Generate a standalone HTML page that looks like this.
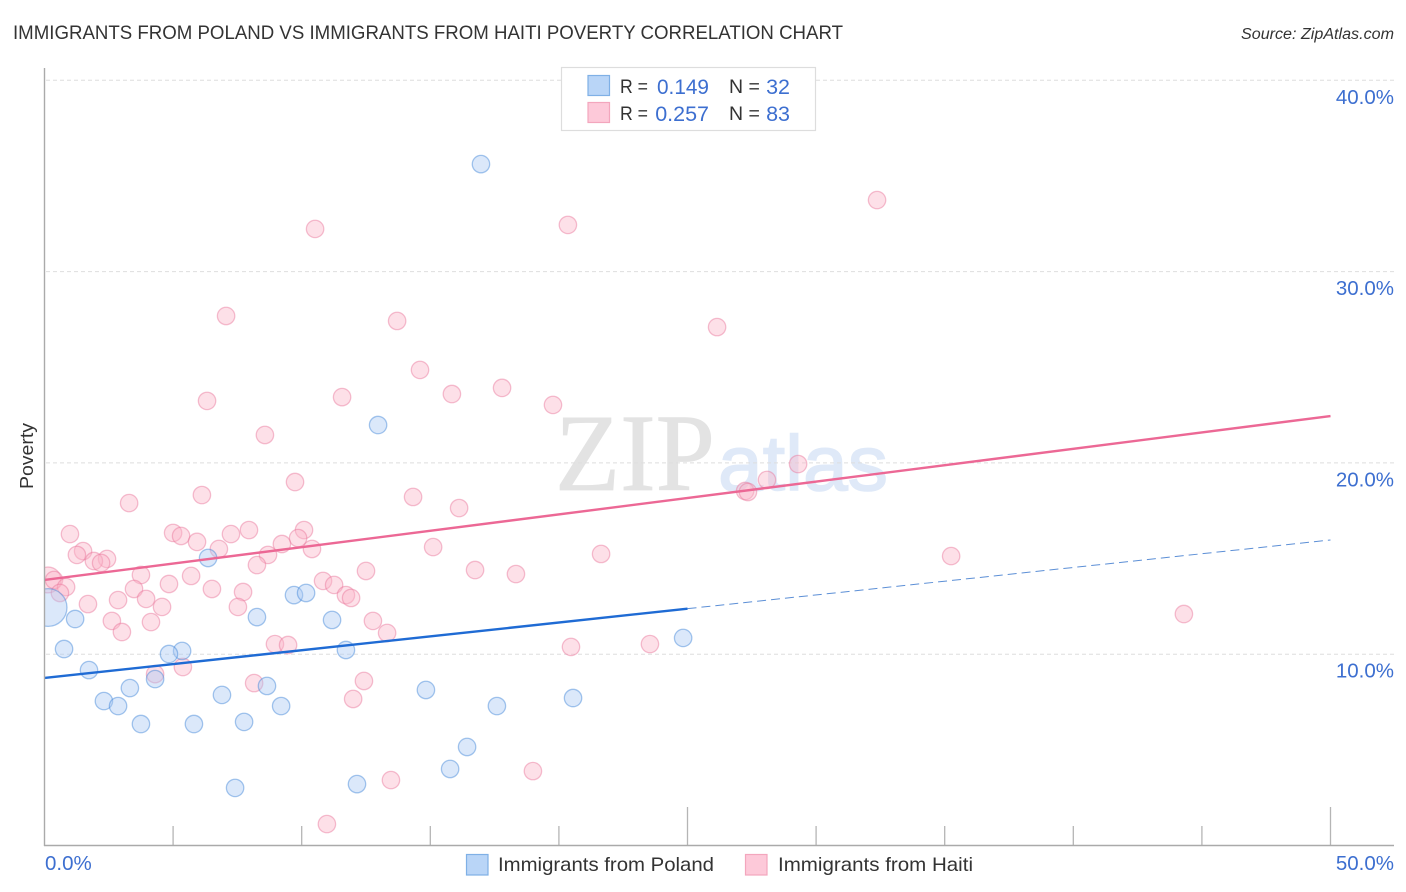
<!DOCTYPE html>
<html lang="en">
<head>
<meta charset="utf-8">
<title>Immigrants from Poland vs Immigrants from Haiti Poverty Correlation Chart</title>
<style>
html,body{margin:0;padding:0;background:#fff;}
svg{display:block;font-family:"Liberation Sans",sans-serif;}
</style>
</head>
<body>
<svg id="chart" xmlns="http://www.w3.org/2000/svg" width="1406" height="892" viewBox="0 0 1406 892">
  <rect x="0" y="0" width="1406" height="892" fill="#ffffff"/>
  <defs><clipPath id="plot-clip"><rect x="45" y="60" width="1360" height="786"/></clipPath></defs>
  <text x="13" y="39" font-size="19.5" fill="#333333" textLength="830" lengthAdjust="spacingAndGlyphs">IMMIGRANTS FROM POLAND VS IMMIGRANTS FROM HAITI POVERTY CORRELATION CHART</text>
  <text x="1394" y="39" font-size="15.5" font-style="italic" fill="#333333" text-anchor="end" textLength="153" lengthAdjust="spacingAndGlyphs">Source: ZipAtlas.com</text>
  <text transform="translate(33,456) rotate(-90)" font-size="18.5" fill="#333333" text-anchor="middle" textLength="66" lengthAdjust="spacingAndGlyphs">Poverty</text>
  <g>
    <text x="555" y="490" font-family="'Liberation Serif',serif" font-size="110" fill="#e3e3e3" stroke="#e3e3e3" stroke-width="0.8" textLength="160" lengthAdjust="spacingAndGlyphs">ZIP</text>
    <text x="718" y="490" font-size="78" fill="#dfe9f8" stroke="#dfe9f8" stroke-width="1.5" textLength="170" lengthAdjust="spacingAndGlyphs">atlas</text>
  </g>
  <g id="grid"></g>
  <g id="haiti-points" clip-path="url(#plot-clip)"></g>
  <g id="poland-points" clip-path="url(#plot-clip)"></g>
  <g id="trends"></g>
  <g id="axes"></g>
  <g>
    <rect x="561.5" y="67.5" width="254" height="63" fill="#ffffff" stroke="#dddddd" stroke-width="1.2"/>
    <rect x="588" y="75.5" width="21.5" height="20" fill="#b9d5f7" stroke="#7fb0e6" stroke-width="1.2"/>
    <rect x="588" y="102.5" width="21.5" height="20" fill="#fdc9d9" stroke="#f3a6bd" stroke-width="1.2"/>
    <text x="620" y="93" font-size="19.5" fill="#333333" textLength="28" lengthAdjust="spacingAndGlyphs">R =</text>
    <text x="657" y="94" font-size="21.5" fill="#3d6fd0" textLength="52" lengthAdjust="spacingAndGlyphs">0.149</text>
    <text x="729" y="93" font-size="19.5" fill="#333333">N =</text>
    <text x="790" y="94" font-size="21.5" fill="#3d6fd0" text-anchor="end">32</text>
    <text x="620" y="120" font-size="19.5" fill="#333333" textLength="28" lengthAdjust="spacingAndGlyphs">R =</text>
    <text x="709" y="121" font-size="21.5" fill="#3d6fd0" text-anchor="end">0.257</text>
    <text x="729" y="120" font-size="19.5" fill="#333333">N =</text>
    <text x="790" y="121" font-size="21.5" fill="#3d6fd0" text-anchor="end">83</text>
  </g>
  <g>
    <rect x="466.5" y="854.5" width="21.5" height="20.5" fill="#b9d5f7" stroke="#7fb0e6" stroke-width="1.2"/>
    <text x="498" y="871" font-size="19.5" fill="#333333" textLength="216" lengthAdjust="spacingAndGlyphs">Immigrants from Poland</text>
    <rect x="745.5" y="854.5" width="21.5" height="20.5" fill="#fdc9d9" stroke="#f3a6bd" stroke-width="1.2"/>
    <text x="778" y="871" font-size="19.5" fill="#333333" textLength="195" lengthAdjust="spacingAndGlyphs">Immigrants from Haiti</text>
  </g>
</svg>
<script>
const polandX = [16.97,12.97,6.36,9.70,10.17,8.26,11.18,1.19,24.83,0.76,5.35,4.84,11.72,1.73,4.30,3.32,8.65,14.83,6.90,2.31,2.86,9.20,17.59,20.55,3.75,5.81,7.76,16.43,15.77,12.15,7.41,0.14];
const polandY = [35.62,21.98,15.03,13.09,13.20,11.94,11.79,11.84,10.85,10.27,10.17,10.01,10.22,9.17,8.70,8.23,8.34,8.13,7.87,7.55,7.29,7.29,7.29,7.71,6.35,6.35,6.46,5.15,4.00,3.21,3.01,12.44];
const polandWeight = [1,1,1,1,1,1,1,1,1,1,1,1,1,1,1,1,1,1,1,1,1,1,1,1,1,1,1,1,1,1,1,4.7];
const haitiX = [32.37,20.35,10.52,7.06,13.71,26.15,14.60,15.84,17.79,11.57,6.32,19.77,8.57,29.30,28.09,9.74,27.24,27.35,14.33,6.12,3.29,16.12,5.00,7.95,7.25,10.09,5.31,0.99,5.93,9.86,9.23,10.40,6.78,15.11,1.50,1.26,8.69,2.43,1.92,2.20,8.26,21.64,35.25,16.74,12.50,18.33,3.75,5.70,10.83,11.26,0.14,0.37,0.84,4.84,3.48,6.51,7.72,11.72,11.92,0.60,2.86,3.95,1.69,7.52,4.57,2.62,4.14,12.77,3.01,13.32,8.96,9.47,20.47,23.54,44.30,5.38,4.30,12.42,8.15,12.00,13.47,18.99,10.98];
const haitiY = [33.74,32.44,32.23,27.68,27.42,27.10,24.86,23.60,23.92,23.44,23.24,23.03,21.46,19.94,19.11,19.00,18.53,18.48,18.22,18.32,17.90,17.64,16.34,16.49,16.28,16.49,16.18,16.28,15.87,16.07,15.76,15.50,15.50,15.60,15.39,15.19,15.19,14.98,14.87,14.77,14.66,15.24,15.13,14.40,14.35,14.19,14.14,14.09,13.83,13.62,13.88,13.88,13.51,13.67,13.41,13.41,13.25,13.09,12.94,13.20,12.83,12.89,12.62,12.47,12.47,11.74,11.68,11.74,11.16,11.11,10.53,10.48,10.38,10.53,12.10,9.33,8.96,8.60,8.49,7.66,3.42,3.89,1.12];
const haitiWeight = [1,1,1,1,1,1,1,1,1,1,1,1,1,1,1,1,1,1,1,1,1,1,1,1,1,1,1,1,1,1,1,1,1,1,1,1,1,1,1,1,1,1,1,1,1,1,1,1,1,1,2.2,1,1,1,1,1,1,1,1,1,1,1,1,1,1,1,1,1,1,1,1,1,1,1,1,1,1,1,1,1,1,1,1];
const polandTrendX = [0, 25];
const polandTrendY = [8.76, 12.38];
const polandForecastX = [25, 50];
const polandForecastY = [12.38, 15.97];
const haitiTrendX = [0, 50];
const haitiTrendY = [13.88, 22.45];
const yGridValues = [10, 20, 30, 40];
const yTickLabels = ["10.0%", "20.0%", "30.0%", "40.0%"];
const xTickValues = [5, 10, 15, 20, 25, 30, 35, 40, 45, 50];
const xMajorTicks = [25, 50];
const xEndLabels = ["0.0%", "50.0%"];

const NS = "http://www.w3.org/2000/svg";
const sx = v => 44.5 + v * 25.72;
const sy = v => 845.5 - v * 19.13;
const radius = w => 8.7 * Math.sqrt(w);

const gridGroup = document.getElementById("grid");
const axesGroup = document.getElementById("axes");
const trendsGroup = document.getElementById("trends");

yGridValues.forEach(function (v, i) {
  const line = document.createElementNS(NS, "line");
  
  
  line.setAttribute("x1", 46);
  line.setAttribute("x2", 1394);
  line.setAttribute("y1", sy(v));
  line.setAttribute("y2", sy(v));
  line.setAttribute("stroke", "#dedede");
  line.setAttribute("stroke-width", 1);
  line.setAttribute("stroke-dasharray", "4 3");
  gridGroup.appendChild(line);

  const label = document.createElementNS(NS, "text");
  
  
  label.setAttribute("x", 1394);
  label.setAttribute("y", sy(v) + 23.5);
  label.setAttribute("font-size", 20.5);
  label.setAttribute("fill", "#3d6fd0");
  label.setAttribute("text-anchor", "end");
  label.textContent = yTickLabels[i];
  axesGroup.appendChild(label);
});

function drawPoints(xs, ys, ws, groupId, fill, stroke, name) {
  const group = document.getElementById(groupId);
  xs.forEach(function (x, i) {
    const c = document.createElementNS(NS, "circle");
    
    
    c.setAttribute("cx", sx(x));
    c.setAttribute("cy", sy(ys[i]));
    c.setAttribute("r", radius(ws[i]));
    c.setAttribute("fill", fill);
    c.setAttribute("fill-opacity", 0.42);
    c.setAttribute("stroke", stroke);
    c.setAttribute("stroke-opacity", 0.45);
    c.setAttribute("stroke-width", 1.3);
    group.appendChild(c);
  });
}
drawPoints(haitiX, haitiY, haitiWeight, "haiti-points", "#fbb4c9", "#e8749a", "haiti-point");
drawPoints(polandX, polandY, polandWeight, "poland-points", "#a9c9f2", "#3b82d8", "poland-point");

const forecast = document.createElementNS(NS, "line");


forecast.setAttribute("x1", sx(polandForecastX[0]));
forecast.setAttribute("y1", sy(polandForecastY[0]));
forecast.setAttribute("x2", sx(polandForecastX[1]));
forecast.setAttribute("y2", sy(polandForecastY[1]));
forecast.setAttribute("stroke", "#5c8fd6");
forecast.setAttribute("stroke-width", 1);
forecast.setAttribute("stroke-dasharray", "9 5");
trendsGroup.appendChild(forecast);

const polandLine = document.createElementNS(NS, "line");


polandLine.setAttribute("x1", sx(polandTrendX[0]));
polandLine.setAttribute("y1", sy(polandTrendY[0]));
polandLine.setAttribute("x2", sx(polandTrendX[1]));
polandLine.setAttribute("y2", sy(polandTrendY[1]));
polandLine.setAttribute("stroke", "#1f6bd4");
polandLine.setAttribute("stroke-width", 2.4);
trendsGroup.appendChild(polandLine);

const haitiLine = document.createElementNS(NS, "line");


haitiLine.setAttribute("x1", sx(haitiTrendX[0]));
haitiLine.setAttribute("y1", sy(haitiTrendY[0]));
haitiLine.setAttribute("x2", sx(haitiTrendX[1]));
haitiLine.setAttribute("y2", sy(haitiTrendY[1]));
haitiLine.setAttribute("stroke", "#ec6895");
haitiLine.setAttribute("stroke-width", 2.4);
trendsGroup.appendChild(haitiLine);

xTickValues.forEach(function (v) {
  const tick = document.createElementNS(NS, "line");
  
  
  tick.setAttribute("x1", sx(v));
  tick.setAttribute("x2", sx(v));
  tick.setAttribute("y1", xMajorTicks.includes(v) ? 807 : 826);
  tick.setAttribute("y2", 845);
  tick.setAttribute("stroke", "#b5b5b5");
  tick.setAttribute("stroke-width", 1.3);
  axesGroup.appendChild(tick);
});

const xAxis = document.createElementNS(NS, "line");


xAxis.setAttribute("x1", 44);
xAxis.setAttribute("x2", 1394);
xAxis.setAttribute("y1", 845.5);
xAxis.setAttribute("y2", 845.5);
xAxis.setAttribute("stroke", "#aaaaaa");
xAxis.setAttribute("stroke-width", 1.4);
axesGroup.appendChild(xAxis);

const yAxis = document.createElementNS(NS, "line");


yAxis.setAttribute("x1", 44.5);
yAxis.setAttribute("x2", 44.5);
yAxis.setAttribute("y1", 68);
yAxis.setAttribute("y2", 846);
yAxis.setAttribute("stroke", "#aaaaaa");
yAxis.setAttribute("stroke-width", 1.4);
axesGroup.appendChild(yAxis);

const xStart = document.createElementNS(NS, "text");


xStart.setAttribute("x", 45);
xStart.setAttribute("y", 870);
xStart.setAttribute("font-size", 20.5);
xStart.setAttribute("fill", "#3d6fd0");
xStart.textContent = xEndLabels[0];
axesGroup.appendChild(xStart);

const xEnd = document.createElementNS(NS, "text");


xEnd.setAttribute("x", 1394);
xEnd.setAttribute("y", 870);
xEnd.setAttribute("font-size", 20.5);
xEnd.setAttribute("fill", "#3d6fd0");
xEnd.setAttribute("text-anchor", "end");
xEnd.textContent = xEndLabels[1];
axesGroup.appendChild(xEnd);
</script>
</body>
</html>
